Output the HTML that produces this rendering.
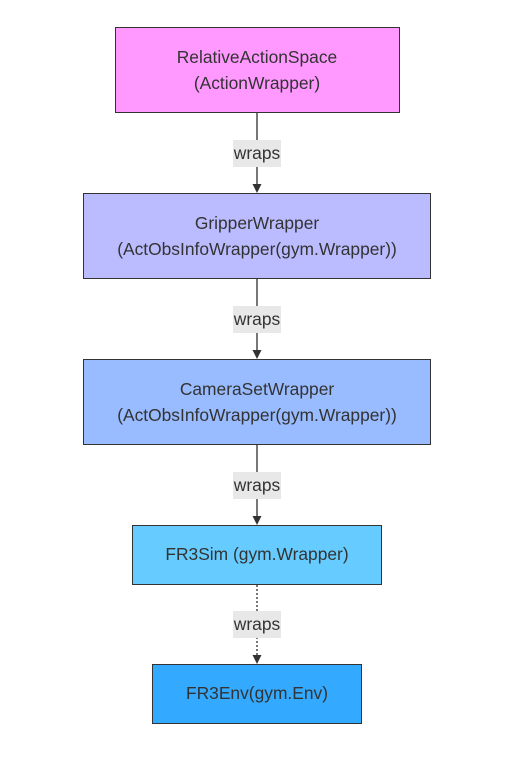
<!DOCTYPE html>
<html><head><style>html,body{margin:0;padding:0;background:#fff}</style></head>
<body>
<svg width="505" height="759" viewBox="0 0 505 759" xmlns="http://www.w3.org/2000/svg" font-family="Liberation Sans, sans-serif" font-size="17.4" fill="#333">
<g stroke="#333" stroke-width="1">
<rect x="115.5" y="27.5" width="284" height="85" fill="#ff99ff"/>
<rect x="83.5" y="193.5" width="347" height="85" fill="#bbbbff"/>
<rect x="83.5" y="359.5" width="347" height="85" fill="#99bbff"/>
<rect x="132.5" y="525.5" width="249" height="59" fill="#66ccff"/>
<rect x="152.5" y="664.5" width="209" height="59" fill="#33aaff"/>
</g>
<g stroke="#777" stroke-width="2" fill="none">
<line x1="257" y1="113" x2="257" y2="186"/>
<line x1="257" y1="279" x2="257" y2="352"/>
<line x1="257" y1="445" x2="257" y2="518"/>
<line x1="257" y1="585" x2="257" y2="657" stroke-dasharray="2,2"/>
</g>
<g fill="#333">
<path d="M252.5,184 L261.5,184 L257,193 z"/>
<path d="M252.5,350 L261.5,350 L257,359 z"/>
<path d="M252.5,516 L261.5,516 L257,525 z"/>
<path d="M252.5,655 L261.5,655 L257,664 z"/>
</g>
<g fill="#e8e8e8">
<rect x="233" y="140" width="48" height="27"/>
<rect x="233" y="306" width="48" height="27"/>
<rect x="233" y="472" width="48" height="27"/>
<rect x="233" y="611" width="48" height="27"/>
</g>
<g text-anchor="middle">
<text x="257" y="159">wraps</text>
<text x="257" y="325">wraps</text>
<text x="257" y="491">wraps</text>
<text x="257" y="630">wraps</text>
<text x="257" y="63">RelativeActionSpace</text>
<text x="257" y="89">(ActionWrapper)</text>
<text x="257" y="229">GripperWrapper</text>
<text x="257" y="255">(ActObsInfoWrapper(gym.Wrapper))</text>
<text x="257" y="395">CameraSetWrapper</text>
<text x="257" y="421">(ActObsInfoWrapper(gym.Wrapper))</text>
<text x="257" y="560">FR3Sim (gym.Wrapper)</text>
<text x="257" y="699">FR3Env(gym.Env)</text>
</g>
</svg>
</body></html>
